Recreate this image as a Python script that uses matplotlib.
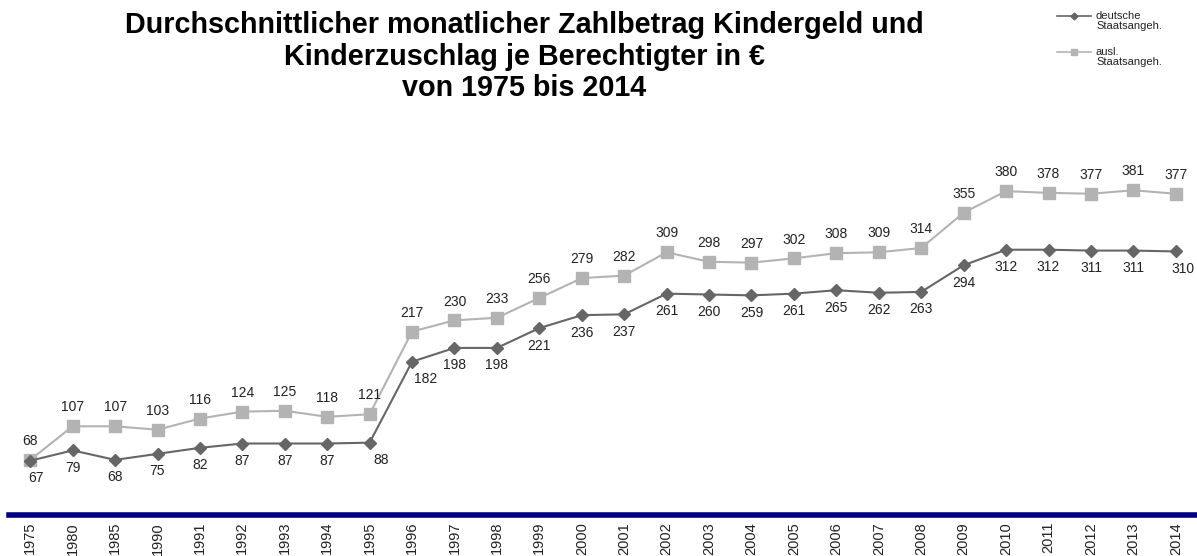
import matplotlib
matplotlib.use("Agg")
import matplotlib.pyplot as plt
from matplotlib.lines import Line2D

plt.rcParams['font.family'] = ['Liberation Sans', 'DejaVu Sans']

years = ["1975", "1980", "1985", "1990", "1991", "1992", "1993", "1994", "1995",
         "1996", "1997", "1998", "1999", "2000", "2001", "2002", "2003", "2004",
         "2005", "2006", "2007", "2008", "2009", "2010", "2011", "2012", "2013", "2014"]
deutsche = [67, 79, 68, 75, 82, 87, 87, 87, 88, 182, 198, 198, 221, 236, 237, 261, 260,
            259, 261, 265, 262, 263, 294, 312, 312, 311, 311, 310]
ausl = [68, 107, 107, 103, 116, 124, 125, 118, 121, 217, 230, 233, 256, 279, 282, 309,
        298, 297, 302, 308, 309, 314, 355, 380, 378, 377, 381, 377]

c_de = "#666666"
c_au = "#b3b3b3"

fig = plt.figure(figsize=(11.97, 5.56), dpi=100)
ax = fig.add_axes([9/1197, (556-515)/556, 1 - 9/1197, 0.694])
x = list(range(len(years)))

ax.plot(x, ausl, color=c_au, lw=1.5, marker="s", ms=9, mec=c_au, mfc=c_au, zorder=2)
ax.plot(x, deutsche, color=c_de, lw=1.5, marker="D", ms=6.5, mec=c_de, mfc=c_de, zorder=3)

for i, v in enumerate(ausl):
    ax.annotate(str(v), (i, v), xytext=(0, 8.5), textcoords="offset points",
                ha="center", va="bottom", fontsize=10, color="#222222")
for i, v in enumerate(deutsche):
    dx = 0
    if i == 0:
        dx = 4
    if i == 8:
        dx = 8
    if i == 9:
        dx = 10
    if i == 27:
        dx = 5
    ax.annotate(str(v), (i, v), xytext=(dx, -7.5), textcoords="offset points",
                ha="center", va="top", fontsize=10, color="#222222")

ax.set_xlim(-0.5, 27.5)
ax.set_ylim(4, 452)
ax.set_yticks([])
ax.set_xticks(x)
ax.set_xticklabels(years, rotation=90, fontsize=10.5, va="top", color="#222222")
ax.tick_params(axis="x", length=0, pad=5)
for s in ["top", "right", "left"]:
    ax.spines[s].set_visible(False)
ax.spines["bottom"].set_color("#000080")
ax.spines["bottom"].set_linewidth(4)

fig.text(524/1197, 1 - 11/556,
         "Durchschnittlicher monatlicher Zahlbetrag Kindergeld und\n"
         "Kinderzuschlag je Berechtigter in \u20ac\nvon 1975 bis 2014",
         ha="center", va="top", fontsize=20.7, fontweight="bold", linespacing=1.17)

# legend
def leg(y, color, marker, ms, label):
    yf = 1 - y/556
    fig.add_artist(Line2D([1057/1197, 1091/1197], [yf, yf], color=color, lw=1.2,
                          transform=fig.transFigure))
    fig.add_artist(Line2D([1074/1197], [yf], color=color, marker=marker, ms=ms,
                          mfc=color, mec=color, lw=0, transform=fig.transFigure))
    fig.text(1096/1197, yf + 5/556, label, ha="left", va="top", fontsize=8,
             linespacing=1.0, color="#222222")

leg(16, c_de, "D", 3.5, "deutsche\nStaatsangeh.")
leg(52, c_au, "s", 5, "ausl.\nStaatsangeh.")

fig.savefig("out.png", dpi=100)
